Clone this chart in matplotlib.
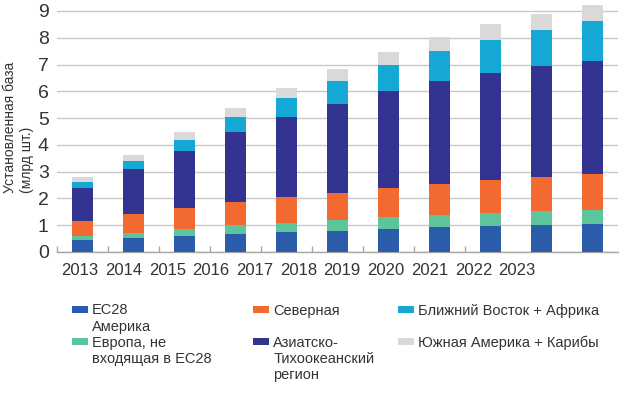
import matplotlib
matplotlib.use("Agg")
import matplotlib.pyplot as plt
from matplotlib.patches import Patch
import numpy as np

plt.rcParams['font.family'] = ['Liberation Sans', 'DejaVu Sans']

years = ["2013", "2014", "2015", "2016", "2017", "2018", "2019", "2020", "2021", "2022", "2023"]
series_names = ["EC28\nАмерика", "Европа, не\nвходящая в EC28", "Северная",
                "Азиатско-\nТихоокеанский\nрегион", "Ближний Восток + Африка",
                "Южная Америка + Карибы"]
blue   = [0.45, 0.535, 0.61, 0.67, 0.73, 0.80, 0.86, 0.92, 0.97, 1.02, 1.06]
green  = [0.15, 0.185, 0.25, 0.33, 0.37, 0.40, 0.43, 0.46, 0.50, 0.51, 0.52]
orange = [0.57, 0.70, 0.77, 0.87, 0.94, 1.02, 1.11, 1.17, 1.22, 1.28, 1.33]
navy   = [1.23, 1.68, 2.14, 2.60, 2.99, 3.32, 3.60, 3.82, 3.98, 4.12, 4.22]
cyan   = [0.23, 0.30, 0.43, 0.56, 0.71, 0.85, 0.98, 1.12, 1.25, 1.36, 1.48]
gray   = [0.16, 0.22, 0.28, 0.35, 0.40, 0.43, 0.50, 0.55, 0.58, 0.60, 0.61]
yticks = [0, 1, 2, 3, 4, 5, 6, 7, 8, 9]
ylabel = "Установленная база\n(млрд шт.)"

colors = ["#2A5CAA", "#5DC49B", "#F26A2F", "#323490", "#16A8D5", "#D9D9D9"]
values = [blue, green, orange, navy, cyan, gray]

fig = plt.figure(figsize=(6.2, 4.0), dpi=100)
ax = fig.add_axes([57/620, 1-252/400, 561/620, 9.35*26.78/400])

x = np.arange(len(years))
bottom = np.zeros(len(years))
for vals, col in zip(values, colors):
    ax.bar(x, vals, width=0.4, bottom=bottom, color=col, zorder=3, linewidth=0)
    bottom += np.array(vals)

ax.set_xlim(-0.5, len(years) - 0.5)
ax.set_ylim(0, 9.35)
ax.set_yticks(yticks)
ax.set_yticklabels([str(t) for t in yticks])
ax.tick_params(axis='y', length=0, pad=6, labelsize=14, labelcolor='#333333')
ax.yaxis.grid(True, color='#C8C8C8', linewidth=1.0, zorder=0)
ax.set_axisbelow(True)

# labels (spread narrower than the bars, as in the original)
label_pos = np.linspace(-0.05, 8.52, len(years))
ax.set_xticks(label_pos)
ax.set_xticklabels(years)
ax.tick_params(axis='x', length=0, pad=8, labelsize=12, labelcolor='#333333')
ax.set_xticks(np.arange(-0.5, 8.0, 1.0), minor=True)
ax.tick_params(axis='x', which='minor', direction='in', length=4.5, width=1, color='#A6A6A6')

for s in ['top', 'right', 'left']:
    ax.spines[s].set_visible(False)
ax.spines['bottom'].set_color('#A6A6A6')
ax.spines['bottom'].set_linewidth(1.0)

fig.text(18.5/620, 1-193/400, ylabel, rotation=90, ha='center', va='bottom',
         multialignment='left', fontsize=10, color='#333333')

# legend in three columns
columns = [[0, 1], [2, None, 3], [4, None, 5]]
col_x = [72/620, 253/620, 398/620]
for cx, col in zip(col_x, columns):
    handles, labels = [], []
    for idx in col:
        if idx is None:
            handles.append(Patch(facecolor='none', edgecolor='none'))
            labels.append(" ")
            continue
        lines = series_names[idx].split("\n")
        for j, ln in enumerate(lines):
            if j == 0:
                handles.append(Patch(facecolor=colors[idx], edgecolor='none'))
            else:
                handles.append(Patch(facecolor='none', edgecolor='none'))
            labels.append(ln)
    leg = fig.legend(handles, labels, loc='upper left', bbox_to_anchor=(cx, 1-303.5/400),
                     frameon=False, fontsize=10.5, labelspacing=0.14, handlelength=1.1,
                     handleheight=0.38, handletextpad=0.28, borderpad=0, borderaxespad=0,
                     labelcolor='#333333')

fig.savefig("out.png", dpi=100)
